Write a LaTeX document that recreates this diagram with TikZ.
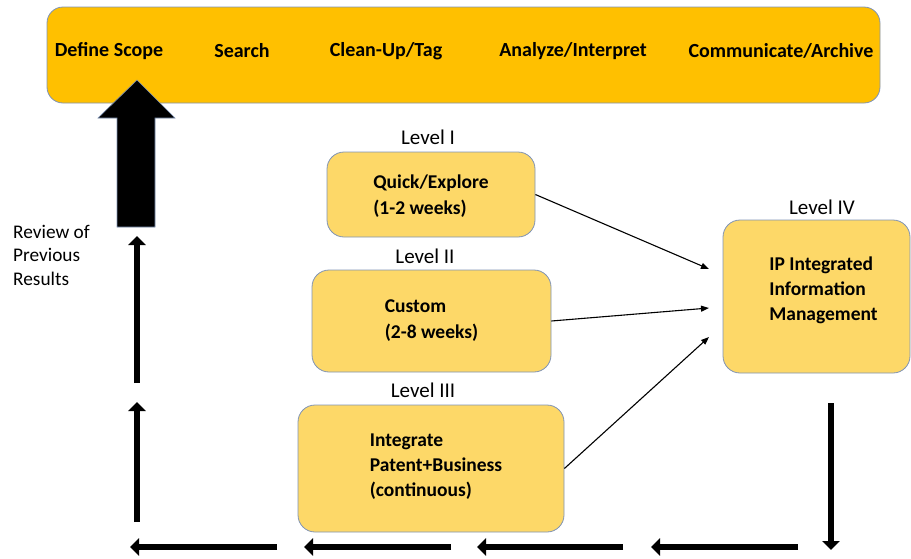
\documentclass[tikz,border=0pt]{standalone}
\usepackage{fontspec}
\setmainfont{Carlito}
\usetikzlibrary{arrows.meta}
\definecolor{bargold}{HTML}{FFC000}
\definecolor{boxgold}{HTML}{FDD868}
\definecolor{edgeblue}{HTML}{7F93B5}
\newcommand{\boxlines}[3]{\hspace*{#1}\raisebox{#2}[0pt][0pt]{\begin{tabular}{@{}l@{}}#3\end{tabular}}}
\tikzset{
  barbox/.style={draw=edgeblue, line width=0.8pt, fill=bargold, rounded corners=16pt, inner sep=0pt},
  levelbox/.style={draw=edgeblue, line width=0.8pt, fill=boxgold, rounded corners=17pt, inner sep=0pt, align=left,
     font=\fontsize{19.5}{25}\selectfont\bfseries},
  steplabel/.style={font=\fontsize{20}{22}\selectfont\bfseries, inner sep=0pt},
  levellabel/.style={font=\fontsize{21}{22}\selectfont, inner sep=0pt},
  thinarrow/.style={line width=1.1pt, -{Triangle[length=8pt,width=6pt]}},
  flowarrow/.style={line width=6.5pt, -{Triangle[length=9pt,width=17pt]}},
}
\begin{document}
\begin{tikzpicture}[x=1pt,y=-1pt]
\useasboundingbox (0,0) rectangle (911,558);
% top bar
\node[barbox, minimum width=833pt, minimum height=96pt] (bar) at (463.5,55) {};
\node[steplabel] (s1) at (109,51) {Define Scope};
\node[steplabel] (s2) at (242,51) {Search};
\node[steplabel] (s3) at (386,51) {Clean-Up/Tag};
\node[steplabel] (s4) at (573,51) {Analyze/Interpret};
\node[steplabel] (s5) at (781,51) {Communicate/Archive};
% big arrow
\draw[draw=edgeblue, line width=0.6pt, fill=black]
  (137,80) -- (175,118) -- (155,118) -- (155,227) -- (117,227) -- (117,118) -- (98,118) -- cycle;
% level boxes
\node[levellabel] (t1) at (428,137) {Level I};
\node[levelbox, minimum width=208pt, minimum height=85pt, font=\fontsize{19.5}{26}\selectfont\bfseries] (l1) at (431,194.5) {\boxlines{0pt}{-7pt}{Quick/Explore\\(1-2 weeks)}};
\node[levellabel] (t2) at (425,256) {Level II};
\node[levelbox, minimum width=239pt, minimum height=102pt, font=\fontsize{19.5}{26}\selectfont\bfseries] (l2) at (431.5,321) {Custom\\(2-8 weeks)};
\node[levellabel] (t3) at (423,390) {Level III};
\node[levelbox, minimum width=266pt, minimum height=127pt] (l3) at (431,468.5) {\boxlines{10pt}{-3.5pt}{Integrate\\Patent+Business\\(continuous)}};
\node[levellabel] (t4) at (822,207) {Level IV};
\node[levelbox, minimum width=187pt, minimum height=153pt] (l4) at (816.5,296.5) {\hspace*{14pt}IP Integrated\\\hspace*{14pt}Information\\\hspace*{14pt}Management\\[-10pt]\mbox{}};
% review text
\node[font=\fontsize{19.3}{23.5}\selectfont, align=left, anchor=north west, inner sep=0pt] (rv) at (13,225) {Review of\\Previous\\Results};
% thin arrows
\coordinate (c1) at (709,269);
\coordinate (c2) at (709,308);
\coordinate (c3) at (709,337);
\draw[thinarrow] (l1.east) -- (c1);
\draw[thinarrow] (l2.east) -- (c2);
\draw[thinarrow] (l3.east) -- (c3);
% flow arrows
\coordinate (d0) at (831,403);
\coordinate (d1) at (831,550);
\coordinate (h1s) at (798,547); \coordinate (h1e) at (651,547);
\coordinate (h2s) at (623,547); \coordinate (h2e) at (477,547);
\coordinate (h3s) at (451,547); \coordinate (h3e) at (304,547);
\coordinate (h4s) at (277,547); \coordinate (h4e) at (130,547);
\coordinate (v1s) at (137,522); \coordinate (v1e) at (137,402);
\coordinate (v2s) at (137,383); \coordinate (v2e) at (137,236);
\draw[flowarrow] (d0) -- (d1);
\draw[flowarrow] (h1s) -- (h1e);
\draw[flowarrow] (h2s) -- (h2e);
\draw[flowarrow] (h3s) -- (h3e);
\draw[flowarrow] (h4s) -- (h4e);
\draw[flowarrow] (v1s) -- (v1e);
\draw[flowarrow] (v2s) -- (v2e);
\end{tikzpicture}
\end{document}
